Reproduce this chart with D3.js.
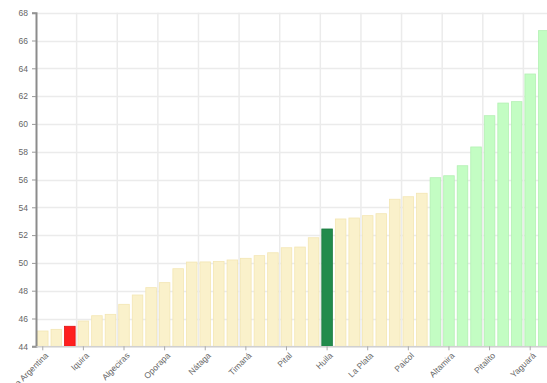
<!DOCTYPE html>
<html>
<head>
<meta charset="utf-8">
<script src="https://cdnjs.cloudflare.com/ajax/libs/d3/7.8.5/d3.min.js"></script>
<style>
  body { margin: 0; background: #fff; }
  svg { display: block; font-family: "Liberation Sans", Arial, sans-serif; }
</style>
</head>
<body>
<div id="chart"></div>
<script>
// municipios (only every third one is labelled on the axis)
var names = ["La Argentina", "m2", "m3", "Iquira", "m5", "m6", "Algeciras", "m8", "m9",
  "Oporapa", "m11", "m12", "Nátaga", "m14", "m15", "Timaná", "m17", "m18",
  "Pital", "m20", "m21", "Huila", "m23", "m24", "La Plata", "m26", "m27",
  "Paicol", "m29", "m30", "Altamira", "m32", "m33", "Pitalito", "m35", "m36",
  "Yaguará", "m38"];
var values = [45.10, 45.22, 45.44, 45.82, 46.20, 46.30, 47.02, 47.69, 48.22,
  48.58, 49.58, 50.06, 50.07, 50.11, 50.21, 50.33, 50.52, 50.73,
  51.09, 51.14, 51.81, 52.44, 53.16, 53.23, 53.40, 53.54, 54.58,
  54.76, 55.01, 56.13, 56.27, 56.99, 58.34, 60.59, 61.50, 61.60,
  63.59, 66.71];
// kind: n = normal, r = lowest highlighted, d = department, g = upper group
var kinds = ["n", "n", "r", "n", "n", "n", "n", "n", "n", "n", "n", "n", "n",
  "n", "n", "n", "n", "n", "n", "n", "n", "d", "n", "n", "n", "n", "n", "n",
  "n", "g", "g", "g", "g", "g", "g", "g", "g", "g"];
var yTicks = [44, 46, 48, 50, 52, 54, 56, 58, 60, 62, 64, 66, 68];

var width = 547, height = 383;
var margin = { top: 12.7, left: 36, bottom: 36.7 };
var plotRight = 550.5;
var plotBottom = height - margin.bottom;

var fills = { n: "#faf1cb", r: "#ff1f1f", d: "#228b4c", g: "#c3fdc3" };
var strokes = { n: "#f3e6b3", r: "#e01010", d: "#1c7a40", g: "#b3f0b3" };

var svg = d3.select("#chart").append("svg")
  .attr("width", width)
  .attr("height", height);

var x = d3.scaleBand()
  .domain(d3.range(values.length))
  .range([margin.left, plotRight])
  .paddingInner(0.22)
  .paddingOuter(0.11);

var y = d3.scaleLinear()
  .domain([44, 68])
  .range([plotBottom, margin.top]);

var step = x.step();
var labelIdx = d3.range(0, values.length, 3);

// grid
var grid = svg.append("g").attr("class", "grid");
grid.selectAll("line.h")
  .data(yTicks)
  .enter().append("line")
  .attr("class", "h")
  .attr("x1", margin.left).attr("x2", plotRight)
  .attr("y1", function(d) { return Math.round(y(d)) + 0.5; })
  .attr("y2", function(d) { return Math.round(y(d)) + 0.5; })
  .style("stroke", "#ebebeb")
  .style("stroke-width", "1.5px");

grid.selectAll("line.v")
  .data(labelIdx.filter(function(i) { return i > 0; }))
  .enter().append("line")
  .attr("class", "v")
  .attr("x1", function(i) { return x(i) - step * 0.11; })
  .attr("x2", function(i) { return x(i) - step * 0.11; })
  .attr("y1", margin.top).attr("y2", plotBottom)
  .style("stroke", "#ebebeb")
  .style("stroke-width", "1.5px");

// bars
svg.append("g").selectAll("rect")
  .data(values)
  .enter().append("rect")
  .attr("x", function(d, i) { return x(i); })
  .attr("width", x.bandwidth())
  .attr("y", function(d) { return y(d); })
  .attr("height", function(d) { return plotBottom - y(d); })
  .style("fill", function(d, i) { return fills[kinds[i]]; })
  .style("stroke", function(d, i) { return strokes[kinds[i]]; })
  .style("stroke-width", "0.8px");

// y axis
var yAxis = svg.append("g")
  .attr("transform", "translate(" + margin.left + ",0)")
  .call(d3.axisLeft(y).tickValues(yTicks).tickSize(4).tickPadding(4).tickFormat(d3.format("d")));
yAxis.select(".domain").style("stroke", "#8c8c8c").style("stroke-width", "2px");
yAxis.selectAll(".tick line").style("stroke", "#999");
yAxis.selectAll("text").style("fill", "#666").style("font-size", "8.5px");

// x axis
var xAxis = svg.append("g")
  .attr("transform", "translate(0," + plotBottom + ")")
  .call(d3.axisBottom(x).tickValues(labelIdx).tickSize(4).tickSizeOuter(0)
    .tickFormat(function(i) { return names[i]; }));
xAxis.select(".domain").style("stroke", "#d0d0d0").style("stroke-width", "1.5px");
xAxis.selectAll(".tick line").style("stroke", "#aaa");
xAxis.selectAll("text")
  .style("fill", "#666")
  .style("font-size", "8.5px")
  .attr("text-anchor", "end")
  .attr("dx", "-0.3em")
  .attr("dy", "0.5em")
  .attr("transform", "rotate(-45)");
</script>
</body>
</html>
